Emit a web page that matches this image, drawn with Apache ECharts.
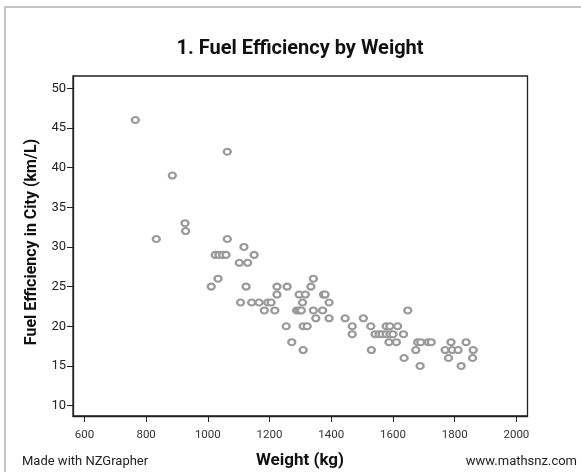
<!DOCTYPE html>
<html>
<head>
<meta charset="utf-8">
<script src="https://cdn.jsdelivr.net/npm/echarts@6/dist/echarts.min.js"></script>
<style>
html,body{margin:0;padding:0;background:#fff;}
#chart{width:581px;height:472px;}
</style>
</head>
<body>
<div id="chart"></div>
<script>
var weights = [765,1063,885,926,928,833,1063,1117,1024,1036,1048,1059,1150,1102,1129,1011,1033,1124,
  1106,1142,1166,1194,1205,1183,1217,1224,1224,1257,1254,1272,1288,1296,1303,1296,1316,1307,1309,1322,1309,
  1342,1334,1342,1350,1375,1380,1393,1372,1393,1445,1504,1468,1528,1578,1590,1615,1468,1542,
  1555,1565,1578,1590,1600,1634,1648,1587,1611,1680,1690,1714,1724,1788,1837,1530,1674,
  1769,1792,1811,1860,1636,1780,1858,1688,1821];
var efficiency = [46,42,39,33,32,31,31,30,29,29,29,29,29,28,28,25,26,25,
  23,23,23,23,23,22,22,24,25,25,20,18,22,22,22,24,24,23,20,20,17,
  26,25,22,21,24,24,23,22,21,21,21,20,20,20,20,20,19,19,
  19,19,19,19,19,19,22,18,18,18,18,18,18,18,18,17,17,
  17,17,17,17,16,16,16,15,15];
var xTicks = [600,800,1000,1200,1400,1600,1800,2000];
var yTicks = [10,15,20,25,30,35,40,45,50];

var points = weights.map(function(w,i){ return [w, efficiency[i]]; });

var chart = echarts.init(document.getElementById('chart'), null, {renderer:'canvas'});
var font = 'Roboto, "Noto Sans", sans-serif';
chart.setOption({
  animation: false,
  backgroundColor: '#fff',
  grid: {left:73, right:53.5, top:76, bottom:56, show:true, borderColor:'#222', borderWidth:1.3, backgroundColor:'transparent'},
  xAxis: {
    type:'value', min:563, max:2036,
    axisLine:{show:true, onZero:false, lineStyle:{color:'#222', width:1.3}},
    axisTick:{show:true, length:6, customValues:xTicks, lineStyle:{color:'#222'}},
    axisLabel:{customValues:xTicks, formatter:function(v){return String(v);}, fontFamily:font, fontSize:11.5, color:'#333', margin:13},
    splitLine:{show:false}
  },
  yAxis: {
    type:'value', min:8.69, max:51.55,
    axisLine:{show:true, onZero:false, lineStyle:{color:'#222', width:1.3}},
    axisTick:{show:true, length:6, customValues:yTicks, lineStyle:{color:'#222'}},
    axisLabel:{customValues:yTicks, formatter:function(v){return String(v);}, fontFamily:font, fontSize:13, color:'#222', margin:7},
    splitLine:{show:false}
  },
  series: [{
    type:'scatter',
    data: points,
    symbol:'circle',
    symbolSize:[7,6],
    itemStyle:{color:'#fff', borderColor:'#9a9a9a', borderWidth:2.2, opacity:1}
  }],
  graphic: [
    {type:'polyline', shape:{points:[[5,472],[5,7],[581,7]]}, style:{stroke:'#c4c4c4', lineWidth:2, fill:null}, silent:true},
    {type:'text', x:300, y:49, style:{text:'1. Fuel Efficiency by Weight', font:'bold 20px '+font, fill:'#111', textAlign:'center', textVerticalAlign:'middle'}},
    {type:'text', x:32, y:242, rotation:Math.PI/2, style:{text:'Fuel Efficiency in City (km/L)', font:'bold 16px '+font, fill:'#111', textAlign:'center', textVerticalAlign:'middle'}},
    {type:'text', x:300, y:461, style:{text:'Weight (kg)', font:'bold 17px '+font, fill:'#111', textAlign:'center', textVerticalAlign:'middle'}},
    {type:'text', x:22, y:462, style:{text:'Made with NZGrapher', font:'13px '+font, fill:'#222', textAlign:'left', textVerticalAlign:'middle'}},
    {type:'text', x:577, y:462, style:{text:'www.mathsnz.com', font:'13px '+font, fill:'#222', textAlign:'right', textVerticalAlign:'middle'}}
  ]
});
</script>
</body>
</html>
